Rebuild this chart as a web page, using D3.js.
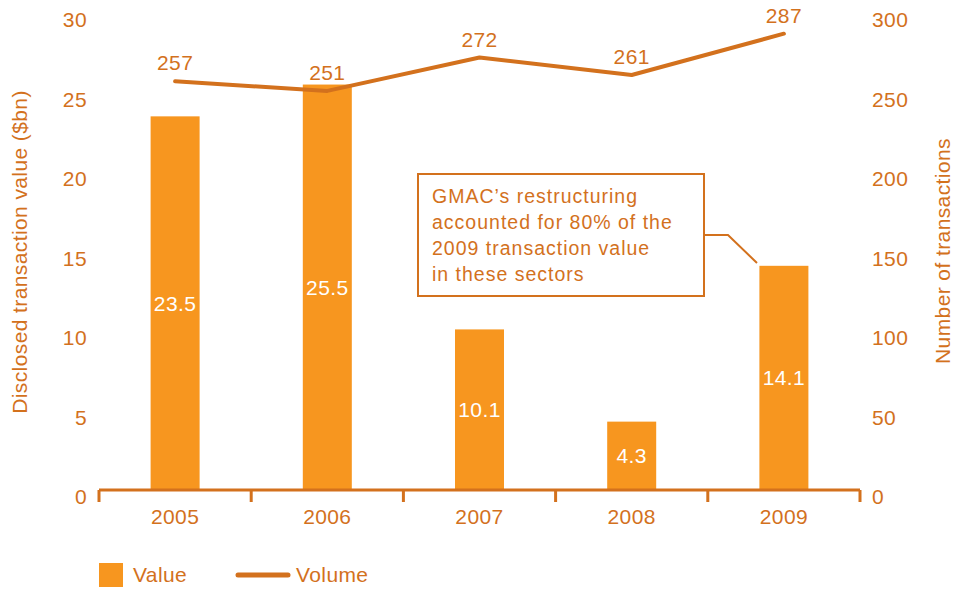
<!DOCTYPE html>
<html>
<head>
<meta charset="utf-8">
<script src="https://cdn.jsdelivr.net/npm/d3@7"></script>
<style>
  body { margin: 0; background: #fff; }
  svg text { font-family: "Liberation Sans", Arial, sans-serif; letter-spacing: 0.4px; }
</style>
</head>
<body>
<svg id="chart" width="960" height="589"></svg>
<script>
// Data
const years = ["2005", "2006", "2007", "2008", "2009"];
const values = [23.5, 25.5, 10.1, 4.3, 14.1];    // $bn
const volumes = [257, 251, 272, 261, 287];       // number of transactions
const leftTicks = [0, 5, 10, 15, 20, 25, 30];
const rightTicks = [0, 50, 100, 150, 200, 250, 300];
const noteLines = ["GMAC\u2019s restructuring", "accounted for 80% of the", "2009 transaction value", "in these sectors"];

const barColor = "#F7961F";
const ink = "#D3711D";
const fs = 21;

const svg = d3.select("#chart");
const left = 99, right = 860, baseY = 490, topY = 13;

const x = d3.scaleBand().domain(years).range([left, right]).paddingInner(0).paddingOuter(0);
const yL = d3.scaleLinear().domain([0, 30]).range([baseY, topY]);
const yR = d3.scaleLinear().domain([0, 300]).range([baseY, topY]);
const barW = 49;

// Bars
svg.append("g").selectAll("rect")
  .data(years)
  .join("rect")
  .attr("x", d => x(d) + x.bandwidth() / 2 - barW / 2)
  .attr("y", (d, i) => yL(values[i]))
  .attr("width", barW)
  .attr("height", (d, i) => baseY - yL(values[i]))
  .attr("fill", barColor);

// Bar labels
svg.append("g").selectAll("text")
  .data(years)
  .join("text")
  .attr("x", d => x(d) + x.bandwidth() / 2)
  .attr("y", (d, i) => (yL(values[i]) + baseY) / 2)
  .attr("dy", "0.35em")
  .attr("text-anchor", "middle")
  .attr("fill", "#fff")
  .attr("font-size", fs)
  .text((d, i) => values[i].toFixed(1));

// X axis
const xAxis = svg.append("g").attr("transform", `translate(0,${baseY})`);
xAxis.append("line")
  .attr("x1", left).attr("x2", right)
  .attr("stroke", ink).attr("stroke-width", 3);
const tickXs = years.map(d => x(d)).concat([right]);
xAxis.selectAll("line.tick")
  .data(tickXs)
  .join("line")
  .attr("class", "tick")
  .attr("x1", d => d).attr("x2", d => d)
  .attr("y1", 0).attr("y2", 12)
  .attr("stroke", ink).attr("stroke-width", 3);
xAxis.selectAll("text")
  .data(years)
  .join("text")
  .attr("x", d => x(d) + x.bandwidth() / 2)
  .attr("y", 34)
  .attr("text-anchor", "middle")
  .attr("fill", ink)
  .attr("font-size", fs)
  .text(d => d);

// Left ticks
svg.append("g").selectAll("text")
  .data(leftTicks)
  .join("text")
  .attr("x", 87)
  .attr("y", d => yL(d) + 14)
  .attr("text-anchor", "end")
  .attr("fill", ink)
  .attr("font-size", fs)
  .text(d => d);

// Right ticks
svg.append("g").selectAll("text")
  .data(rightTicks)
  .join("text")
  .attr("x", 872)
  .attr("y", d => yR(d) + 14)
  .attr("text-anchor", "start")
  .attr("fill", ink)
  .attr("font-size", fs)
  .text(d => d);

// Axis titles
svg.append("text")
  .attr("transform", "translate(27,252) rotate(-90)")
  .attr("text-anchor", "middle")
  .attr("fill", ink)
  .attr("font-size", fs)
  .text("Disclosed transaction value ($bn)");
svg.append("text")
  .attr("transform", "translate(950,251) rotate(-90)")
  .attr("text-anchor", "middle")
  .attr("fill", ink)
  .attr("font-size", fs)
  .text("Number of transactions");

// Volume line
const line = d3.line()
  .x((d, i) => x(years[i]) + x.bandwidth() / 2)
  .y(d => yR(d));
svg.append("path")
  .datum(volumes)
  .attr("d", line)
  .attr("fill", "none")
  .attr("stroke", ink)
  .attr("stroke-width", 4)
  .attr("stroke-linecap", "round")
  .attr("stroke-linejoin", "round");

svg.append("g").selectAll("text")
  .data(volumes)
  .join("text")
  .attr("x", (d, i) => x(years[i]) + x.bandwidth() / 2)
  .attr("y", d => yR(d) - 11)
  .attr("text-anchor", "middle")
  .attr("fill", ink)
  .attr("font-size", fs)
  .text(d => d);

// Annotation
const note = svg.append("g");
note.append("rect")
  .attr("x", 418).attr("y", 174)
  .attr("width", 286).attr("height", 122)
  .attr("fill", "#fff")
  .attr("stroke", ink).attr("stroke-width", 2);
note.selectAll("text")
  .data(noteLines)
  .join("text")
  .attr("x", 432)
  .attr("y", (d, i) => 203 + i * 26)
  .attr("fill", ink)
  .attr("font-size", 19.5)
  .style("letter-spacing", "1px")
  .text(d => d);
note.append("polyline")
  .attr("points", "704,235 728,235 757,263")
  .attr("fill", "none")
  .attr("stroke", ink).attr("stroke-width", 2);

// Legend
const legend = svg.append("g");
legend.append("rect")
  .attr("x", 99).attr("y", 563)
  .attr("width", 24).attr("height", 24)
  .attr("fill", barColor);
legend.append("text")
  .attr("x", 133).attr("y", 582)
  .attr("fill", ink).attr("font-size", fs)
  .text("Value");
legend.append("line")
  .attr("x1", 238).attr("x2", 288)
  .attr("y1", 575).attr("y2", 575)
  .attr("stroke", ink).attr("stroke-width", 5)
  .attr("stroke-linecap", "round");
legend.append("text")
  .attr("x", 296).attr("y", 582)
  .attr("fill", ink).attr("font-size", fs)
  .text("Volume");
</script>
</body>
</html>
